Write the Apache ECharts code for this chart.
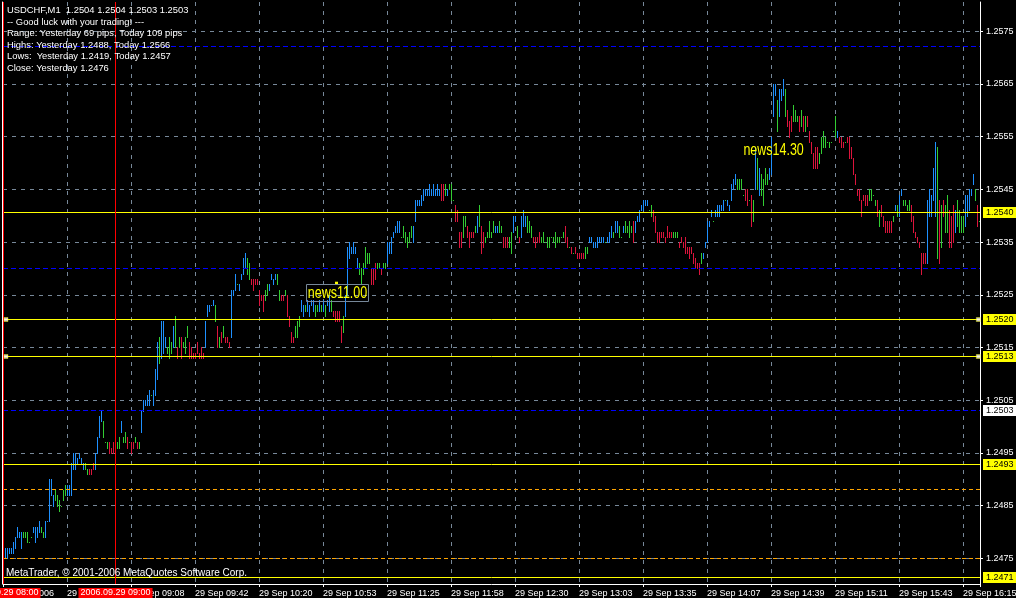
<!DOCTYPE html>
<html>
<head>
<meta charset="utf-8">
<script src="https://cdn.jsdelivr.net/npm/echarts@6/dist/echarts.min.js"></script>
<style>
html,body{margin:0;padding:0;background:#000;}
#c{width:1016px;height:598px;}
</style>
</head>
<body>
<div id="c"></div>
<script>
// ---------- text ----------
const infoLines = [
  'USDCHF,M1  1.2504 1.2504 1.2503 1.2503',
  '-- Good luck with your trading! ---',
  'Range: Yesterday 69 pips, Today 109 pips',
  'Highs: Yesterday 1.2488, Today 1.2566',
  'Lows:  Yesterday 1.2419, Today 1.2457',
  'Close: Yesterday 1.2476'
];
const copyrightText = 'MetaTrader, \u00A9 2001-2006 MetaQuotes Software Corp.';

// time axis labels, one every 32 bars starting at bar -1
const timeLabels = [
  '29 Sep 2006', '29 Sep 08:34', '29 Sep 09:08', '29 Sep 09:42', '29 Sep 10:20',
  '29 Sep 10:53', '29 Sep 11:25', '29 Sep 11:58', '29 Sep 12:30', '29 Sep 13:03',
  '29 Sep 13:35', '29 Sep 14:07', '29 Sep 14:39', '29 Sep 15:11', '29 Sep 15:43',
  '29 Sep 16:15'
];
const priceTicks = [1.2475, 1.2485, 1.2495, 1.2505, 1.2515, 1.2525, 1.2535, 1.2545, 1.2555, 1.2565, 1.2575];

// ---------- bars (M1 high / low) ----------
const barHigh = [
1.2477,1.2477,1.2477,1.2477,1.2478,1.2479,1.2481,1.2480,1.2480,1.2480,
1.2480,1.2480,1.2478,1.2479,1.2481,1.2481,1.2481,1.2482,1.2481,1.2480,
1.2482,1.2482,1.2490,1.2490,1.2487,1.2488,1.2487,1.2486,1.2485,1.2488,
1.2489,1.2489,1.2489,1.2493,1.2495,1.2495,1.2494,1.2495,1.2494,1.2493,
1.2493,1.2492,1.2492,1.2492,1.2493,1.2495,1.2498,1.2502,1.2503,1.2501,
1.2497,1.2497,1.2497,1.2496,1.2497,1.2497,1.2497,1.2498,1.2501,1.2498,
1.2499,1.2498,1.2497,1.2497,1.2497,1.2498,1.2497,1.2497,1.2503,1.2505,
1.2505,1.2506,1.2507,1.2506,1.2507,1.2511,1.2516,1.2517,1.2520,1.2520,
1.2517,1.2515,1.2517,1.2516,1.2519,1.2521,1.2515,1.2517,1.2517,1.2516,
1.2517,1.2519,1.2516,1.2515,1.2514,1.2514,1.2516,1.2514,1.2515,1.2514,
1.2520,1.2523,1.2523,1.2523,1.2524,1.2523,1.2519,1.2517,1.2518,1.2519,
1.2517,1.2517,1.2516,1.2526,1.2526,1.2529,1.2527,1.2527,1.2529,1.2532,
1.2533,1.2532,1.2531,1.2528,1.2528,1.2528,1.2528,1.2526,1.2525,1.2525,
1.2526,1.2527,1.2527,1.2529,1.2528,1.2529,1.2529,1.2526,1.2525,1.2525,
1.2526,1.2525,1.2521,1.2518,1.2517,1.2519,1.2520,1.2521,1.2524,1.2523,
1.2523,1.2524,1.2523,1.2524,1.2524,1.2523,1.2523,1.2524,1.2523,1.2524,
1.2523,1.2524,1.2525,1.2524,1.2522,1.2522,1.2522,1.2522,1.2519,1.2521,
1.2525,1.2534,1.2535,1.2534,1.2535,1.2534,1.2532,1.2531,1.2530,1.2531,
1.2534,1.2533,1.2533,1.2530,1.2530,1.2531,1.2531,1.2531,1.2530,1.2531,
1.2531,1.2535,1.2535,1.2536,1.2537,1.2538,1.2539,1.2539,1.2536,1.2538,
1.2537,1.2536,1.2537,1.2538,1.2538,1.2543,1.2543,1.2543,1.2544,1.2545,
1.2545,1.2545,1.2546,1.2545,1.2546,1.2545,1.2546,1.2545,1.2546,1.2546,
1.2546,1.2545,1.2546,1.2546,1.2543,1.2542,1.2541,1.2537,1.2537,1.2540,
1.2540,1.2538,1.2537,1.2537,1.2537,1.2538,1.2540,1.2542,1.2538,1.2537,
1.2536,1.2537,1.2539,1.2537,1.2539,1.2538,1.2538,1.2539,1.2538,1.2536,
1.2536,1.2536,1.2536,1.2537,1.2540,1.2540,1.2538,1.2536,1.2540,1.2541,
1.2540,1.2540,1.2539,1.2538,1.2536,1.2536,1.2536,1.2537,1.2536,1.2537,
1.2535,1.2536,1.2536,1.2536,1.2536,1.2537,1.2536,1.2536,1.2536,1.2537,
1.2538,1.2536,1.2534,1.2534,1.2533,1.2534,1.2533,1.2533,1.2533,1.2533,
1.2534,1.2534,1.2536,1.2536,1.2535,1.2535,1.2536,1.2536,1.2536,1.2536,
1.2535,1.2536,1.2537,1.2538,1.2537,1.2539,1.2539,1.2538,1.2536,1.2538,
1.2539,1.2538,1.2539,1.2538,1.2539,1.2539,1.2540,1.2541,1.2542,1.2543,
1.2543,1.2543,1.2541,1.2542,1.2541,1.2540,1.2537,1.2537,1.2537,1.2537,
1.2536,1.2538,1.2537,1.2537,1.2537,1.2537,1.2537,1.2535,1.2536,1.2535,
1.2536,1.2534,1.2534,1.2534,1.2533,1.2532,1.2531,1.2531,1.2533,1.2533,
1.2535,1.2539,1.2539,1.2541,1.2539,1.2541,1.2542,1.2542,1.2542,1.2543,
1.2543,1.2543,1.2542,1.2546,1.2547,1.2548,1.2547,1.2547,1.2547,1.2544,
1.2545,1.2545,1.2543,1.2544,1.2543,1.2553,1.2551,1.2549,1.2548,1.2547,
1.2549,1.2548,1.2549,1.2555,1.2565,1.2565,1.2562,1.2564,1.2564,1.2566,
1.2564,1.2560,1.2558,1.2559,1.2561,1.2560,1.2559,1.2559,1.2560,1.2559,
1.2559,1.2559,1.2556,1.2554,1.2552,1.2553,1.2553,1.2552,1.2555,1.2556,
1.2555,1.2554,1.2554,1.2554,1.2556,1.2559,1.2556,1.2555,1.2555,1.2554,
1.2554,1.2555,1.2555,1.2553,1.2551,1.2548,1.2545,1.2545,1.2543,1.2544,
1.2544,1.2544,1.2545,1.2545,1.2544,1.2543,1.2543,1.2541,1.2542,1.2540,
1.2539,1.2539,1.2539,1.2539,1.2540,1.2542,1.2542,1.2544,1.2545,1.2543,
1.2543,1.2542,1.2543,1.2542,1.2540,1.2537,1.2536,1.2535,1.2533,1.2533,
1.2533,1.2543,1.2545,1.2544,1.2549,1.2554,1.2553,1.2543,1.2542,1.2543,
1.2542,1.2544,1.2541,1.2540,1.2542,1.2541,1.2543,1.2541,1.2540,1.2540,
1.2544,1.2544,1.2545,1.2545,1.2548,1.2545,1.2542,1.2539
];
const barLow = [
1.2475,1.2475,1.2476,1.2476,1.2476,1.2477,1.2479,1.2479,1.2477,1.2479,
1.2479,1.2478,1.2478,1.2479,1.2480,1.2478,1.2479,1.2480,1.2480,1.2479,
1.2479,1.2482,1.2482,1.2487,1.2485,1.2486,1.2485,1.2484,1.2485,1.2486,
1.2487,1.2487,1.2487,1.2487,1.2492,1.2492,1.2493,1.2494,1.2493,1.2492,
1.2492,1.2491,1.2491,1.2491,1.2492,1.2492,1.2495,1.2498,1.2501,1.2498,
1.2497,1.2496,1.2495,1.2495,1.2495,1.2496,1.2496,1.2496,1.2499,1.2497,
1.2497,1.2496,1.2497,1.2495,1.2496,1.2497,1.2496,1.2496,1.2499,1.2503,
1.2504,1.2504,1.2504,1.2506,1.2504,1.2506,1.2509,1.2512,1.2513,1.2514,
1.2515,1.2514,1.2513,1.2514,1.2515,1.2515,1.2513,1.2515,1.2513,1.2515,
1.2514,1.2517,1.2513,1.2513,1.2513,1.2513,1.2514,1.2513,1.2513,1.2513,
1.2515,1.2521,1.2522,1.2523,1.2523,1.2520,1.2515,1.2515,1.2516,1.2517,
1.2516,1.2516,1.2515,1.2517,1.2525,1.2526,1.2527,1.2526,1.2528,1.2529,
1.2530,1.2529,1.2528,1.2527,1.2526,1.2527,1.2527,1.2523,1.2524,1.2522,
1.2524,1.2525,1.2526,1.2528,1.2527,1.2528,1.2527,1.2524,1.2524,1.2524,
1.2525,1.2521,1.2519,1.2516,1.2516,1.2517,1.2517,1.2519,1.2522,1.2521,
1.2522,1.2522,1.2521,1.2523,1.2522,1.2521,1.2522,1.2522,1.2522,1.2522,
1.2521,1.2523,1.2522,1.2522,1.2521,1.2520,1.2520,1.2520,1.2516,1.2518,
1.2521,1.2525,1.2532,1.2533,1.2533,1.2533,1.2530,1.2529,1.2527,1.2529,
1.2530,1.2531,1.2531,1.2527,1.2527,1.2528,1.2530,1.2530,1.2529,1.2530,
1.2530,1.2531,1.2533,1.2533,1.2536,1.2537,1.2537,1.2537,1.2536,1.2536,
1.2535,1.2534,1.2535,1.2536,1.2535,1.2539,1.2542,1.2542,1.2542,1.2543,
1.2544,1.2544,1.2544,1.2544,1.2544,1.2544,1.2544,1.2544,1.2543,1.2543,
1.2544,1.2544,1.2545,1.2543,1.2543,1.2539,1.2539,1.2534,1.2534,1.2536,
1.2538,1.2536,1.2534,1.2536,1.2536,1.2537,1.2537,1.2538,1.2533,1.2534,
1.2535,1.2536,1.2536,1.2536,1.2537,1.2537,1.2537,1.2537,1.2537,1.2534,
1.2534,1.2534,1.2534,1.2533,1.2537,1.2539,1.2536,1.2535,1.2536,1.2538,
1.2538,1.2537,1.2537,1.2536,1.2535,1.2534,1.2535,1.2535,1.2535,1.2535,
1.2535,1.2534,1.2534,1.2536,1.2535,1.2534,1.2535,1.2535,1.2536,1.2536,
1.2535,1.2534,1.2534,1.2533,1.2533,1.2533,1.2532,1.2532,1.2532,1.2532,
1.2532,1.2533,1.2535,1.2535,1.2534,1.2534,1.2534,1.2535,1.2535,1.2535,
1.2535,1.2535,1.2535,1.2536,1.2536,1.2537,1.2537,1.2536,1.2536,1.2537,
1.2537,1.2537,1.2536,1.2537,1.2535,1.2537,1.2539,1.2539,1.2541,1.2541,
1.2542,1.2542,1.2541,1.2540,1.2539,1.2537,1.2535,1.2535,1.2536,1.2536,
1.2535,1.2536,1.2536,1.2536,1.2536,1.2536,1.2536,1.2534,1.2535,1.2534,
1.2533,1.2533,1.2532,1.2533,1.2531,1.2530,1.2530,1.2529,1.2531,1.2532,
1.2534,1.2535,1.2538,1.2540,1.2539,1.2540,1.2540,1.2540,1.2541,1.2541,
1.2543,1.2542,1.2541,1.2543,1.2545,1.2546,1.2545,1.2545,1.2545,1.2544,
1.2543,1.2542,1.2543,1.2538,1.2539,1.2545,1.2545,1.2544,1.2544,1.2542,
1.2546,1.2546,1.2547,1.2548,1.2559,1.2563,1.2556,1.2559,1.2562,1.2563,
1.2559,1.2557,1.2555,1.2556,1.2558,1.2558,1.2558,1.2556,1.2557,1.2556,
1.2556,1.2557,1.2554,1.2552,1.2549,1.2549,1.2549,1.2550,1.2552,1.2553,
1.2553,1.2554,1.2553,1.2554,1.2556,1.2555,1.2555,1.2554,1.2553,1.2553,
1.2554,1.2554,1.2551,1.2551,1.2548,1.2546,1.2544,1.2543,1.2540,1.2543,
1.2542,1.2542,1.2543,1.2543,1.2544,1.2542,1.2540,1.2538,1.2540,1.2538,
1.2537,1.2537,1.2537,1.2537,1.2539,1.2541,1.2540,1.2540,1.2544,1.2542,
1.2542,1.2541,1.2541,1.2539,1.2537,1.2536,1.2535,1.2534,1.2529,1.2531,
1.2531,1.2531,1.2540,1.2540,1.2543,1.2540,1.2532,1.2531,1.2534,1.2540,
1.2537,1.2537,1.2534,1.2534,1.2535,1.2537,1.2538,1.2537,1.2537,1.2537,
1.2538,1.2540,1.2541,1.2544,1.2546,1.2543,1.2538,1.2539
];
// bar colour codes: b = blue, g = green, r = red (10 bars per chunk)
const barColorChunks = [
  'bbbbbbbbbg','ggggbbbbgg','bbbbbggggg','gbbbbbbbbb','ggrrrbbbbg','ggrrrrggbg','grgrrgrgbb','bbbgbbbgbb','bgggbgrgrg','ggrrrrrrrr',
  'bbbbbgrgrg','rrrbbbgbbb','bggrrrrrrr','ggbbbbggrr','grrrrgggbb','gbbbbggbgb','gbbgrrrrrg','bbbbbbbggg','gggrrrggrg','gbbbbbbbgg',
  'ggggbbbbbb','bbbbbbbbrr','gbgggrrrrg','grrrrgbgrr','gggggbbggr','rrggbbgrbb','bgggrrrrgg','gggggggggg','rrgrgrrrrr','ggbbbbbbbb',
  'gbbbgbbggb','ggggrbbbbb','bbggrrrrrr','rrrrgggrrr','rrrrrrrrgb','bbbbgbbbbb','gbbbbbgggg','rrgrgbgbgg','ggbbbbgbbb','grrrgggrgr',
  'grrrrrrggg','ggggggbrrr','grrrrrrrrr','rrggggrgrr','rrrrgbgbbg','gggrrrrrrr','rbbbbbgrgr','ggrrrbgggg','bbbbbgrg'
];

// ---------- horizontal / vertical objects ----------
const yellowLevels = [1.254062, 1.252031, 1.251329, 1.249280, 1.247135];
const yellowLevelLabels = ['1.2540', '1.2520', '1.2513', '1.2493', '1.2471'];
const blueLevels = [1.257212, 1.252999, 1.250304];
const blueLevelLabels = ['', '', '1.2503'];
const orangeLevels = [1.248805, 1.247496];
const handleLevels = [1.252031, 1.251329];
const sessionBars = [-0.75, 55.25];
const sessionLabels = ['2006.09.29 08:00', '2006.09.29 09:00'];
const newsLabels = ['news11.00', 'news14.30'];
const newsBars = [166.25, 384.3];
const newsPrices = [1.25254, 1.25524];
const newsBoxed = [true, false];

// ---------- chart ----------
const GRID_GRAY = '#778899';
const FONT = 'Liberation Sans';
const barPalette = { b: '#1e90ff', g: '#32cd32', r: '#dc143c' };
const colorCodes = barColorChunks.join('');
const Y_MIN = 1.247012, Y_MAX = 1.258056;

const barData = barHigh.map((h, i) => [i, h, barLow[i]]);

function boxLabel(text, bg) {
  return {
    show: !!text, position: 'end', distance: 3, formatter: text,
    backgroundColor: bg, color: '#000', fontFamily: FONT, fontSize: 9,
    lineHeight: 10, padding: [1, 3, 0, 3]
  };
}
const markLines = [];
blueLevels.forEach((p, k) => markLines.push({
  yAxis: p, lineStyle: { color: '#0000ff', type: [5, 3], width: 1 },
  label: boxLabel(blueLevelLabels[k], '#ffffff')
}));
orangeLevels.forEach(p => markLines.push({
  yAxis: p, lineStyle: { color: '#ffa500', type: [4, 3], width: 1 }, label: { show: false }
}));
yellowLevels.forEach((p, k) => markLines.push({
  yAxis: p, lineStyle: { color: '#ffff00', type: 'solid', width: 1 },
  label: boxLabel(yellowLevelLabels[k], '#ffff00')
}));
sessionBars.forEach((b, k) => markLines.push({
  xAxis: b, lineStyle: { color: '#ff0000', type: 'solid', width: 1 },
  label: {
    show: true, position: 'start', distance: 4, formatter: sessionLabels[k],
    backgroundColor: '#ff0000', color: '#ffffff', fontFamily: FONT, fontSize: 9,
    lineHeight: 10, padding: [0, 2]
  }
}));

const markPoints = [{
  coord: [165.75, 1.25272], symbol: 'rect', symbolSize: [3, 3],
  itemStyle: { color: '#ffff00' }, label: { show: false }
}];

const handleData = [];
handleLevels.forEach(p => { handleData.push([0.5, p]); handleData.push([486.65, p]); });

const chart = echarts.init(document.getElementById('c'));
chart.setOption({
  backgroundColor: '#000000',
  animation: false,
  grid: { left: 3, right: 36, top: 2, bottom: 14, containLabel: false, outerBoundsMode: 'none' },
  xAxis: {
    type: 'value', min: -1, max: 487.5, interval: 32,
    axisLine: { show: true, onZero: false, lineStyle: { color: '#ffffff', width: 1 } },
    axisTick: { show: true, length: 3, lineStyle: { color: '#ffffff' } },
    axisLabel: {
      color: '#ffffff', fontFamily: FONT, fontSize: 9, margin: 5, align: 'left',
      showMinLabel: true, showMaxLabel: true,
      formatter: function (v) {
        const k = (v + 1) / 32;
        return (Number.isInteger(k) && timeLabels[k]) ? timeLabels[k] : '';
      }
    },
    splitLine: { show: true, lineStyle: { color: GRID_GRAY, type: [4, 5], width: 1 } }
  },
  yAxis: [{
    type: 'value', position: 'right', min: Y_MIN, max: Y_MAX,
    axisLine: { show: true, onZero: false, lineStyle: { color: '#ffffff', width: 1 } },
    axisTick: { show: true, length: 3, customValues: priceTicks, lineStyle: { color: '#ffffff' } },
    axisLabel: {
      customValues: priceTicks, color: '#ffffff', fontFamily: FONT, fontSize: 9, margin: 6,
      formatter: v => v.toFixed(4)
    },
    splitLine: { show: true, lineStyle: { color: GRID_GRAY, type: [4, 5], width: 1 } }
  }, {
    type: 'value', position: 'left', min: Y_MIN, max: Y_MAX, offset: 1,
    axisLine: { show: true, onZero: false, lineStyle: { color: '#ffffff', width: 1 } },
    axisTick: { show: false }, axisLabel: { show: false }, splitLine: { show: false }
  }],
  series: [{
    type: 'custom',
    data: barData,
    encode: { x: 0, y: [1, 2] },
    z: 3,
    renderItem: function (params, api) {
      const i = api.value(0);
      const pTop = api.coord([i, api.value(1)]);
      const pBot = api.coord([i, api.value(2)]);
      const x = Math.round(pTop[0]);
      const y1 = Math.round(pTop[1]);
      const y2 = Math.round(pBot[1]);
      return {
        type: 'rect',
        shape: { x: x, y: y1, width: 1, height: Math.max(1, y2 - y1 + 1) },
        style: { fill: barPalette[colorCodes[params.dataIndex]] }
      };
    },
    markLine: { silent: true, symbol: 'none', animation: false, precision: 6, data: markLines },
    markPoint: { silent: true, animation: false, data: markPoints }
  }, {
    type: 'scatter',
    data: handleData,
    symbol: 'rect', symbolSize: 4, z: 6, silent: true,
    itemStyle: { color: '#ffffff', borderColor: '#ffff00', borderWidth: 0.5 }
  }]
});

// ---------- text overlays (news labels placed through the chart's own scales) ----------
const graphics = infoLines.map((t, k) => ({
  type: 'text', x: 7, y: 10.5 + k * 11.6, z: 100,
  style: { text: t, fill: '#ffffff', fontFamily: FONT, fontSize: 9.4, verticalAlign: 'middle' }
}));
graphics.push({
  type: 'text', x: 6, y: 573, z: 100,
  style: { text: copyrightText, fill: '#ffffff', fontFamily: FONT, fontSize: 10, verticalAlign: 'middle' }
});
newsLabels.forEach((t, k) => {
  const p = chart.convertToPixel({ gridIndex: 0 }, [newsBars[k], newsPrices[k]]);
  if (newsBoxed[k]) {
    graphics.push({
      type: 'rect', z: 90, silent: true,
      shape: { x: Math.round(p[0] - 31.5) + 0.5, y: Math.round(p[1] - 8.5) + 0.5, width: 62, height: 17 },
      style: { fill: null, stroke: GRID_GRAY, lineWidth: 1 }
    });
  }
  graphics.push({
    type: 'text', z: 91, silent: true, x: p[0], y: p[1] + 0.5, scaleX: 0.78, scaleY: 1,
    style: { text: t, fill: '#ffff00', fontFamily: FONT, fontSize: 16, align: 'center', verticalAlign: 'middle' }
  });
});
chart.setOption({ graphic: graphics });
</script>
</body>
</html>
